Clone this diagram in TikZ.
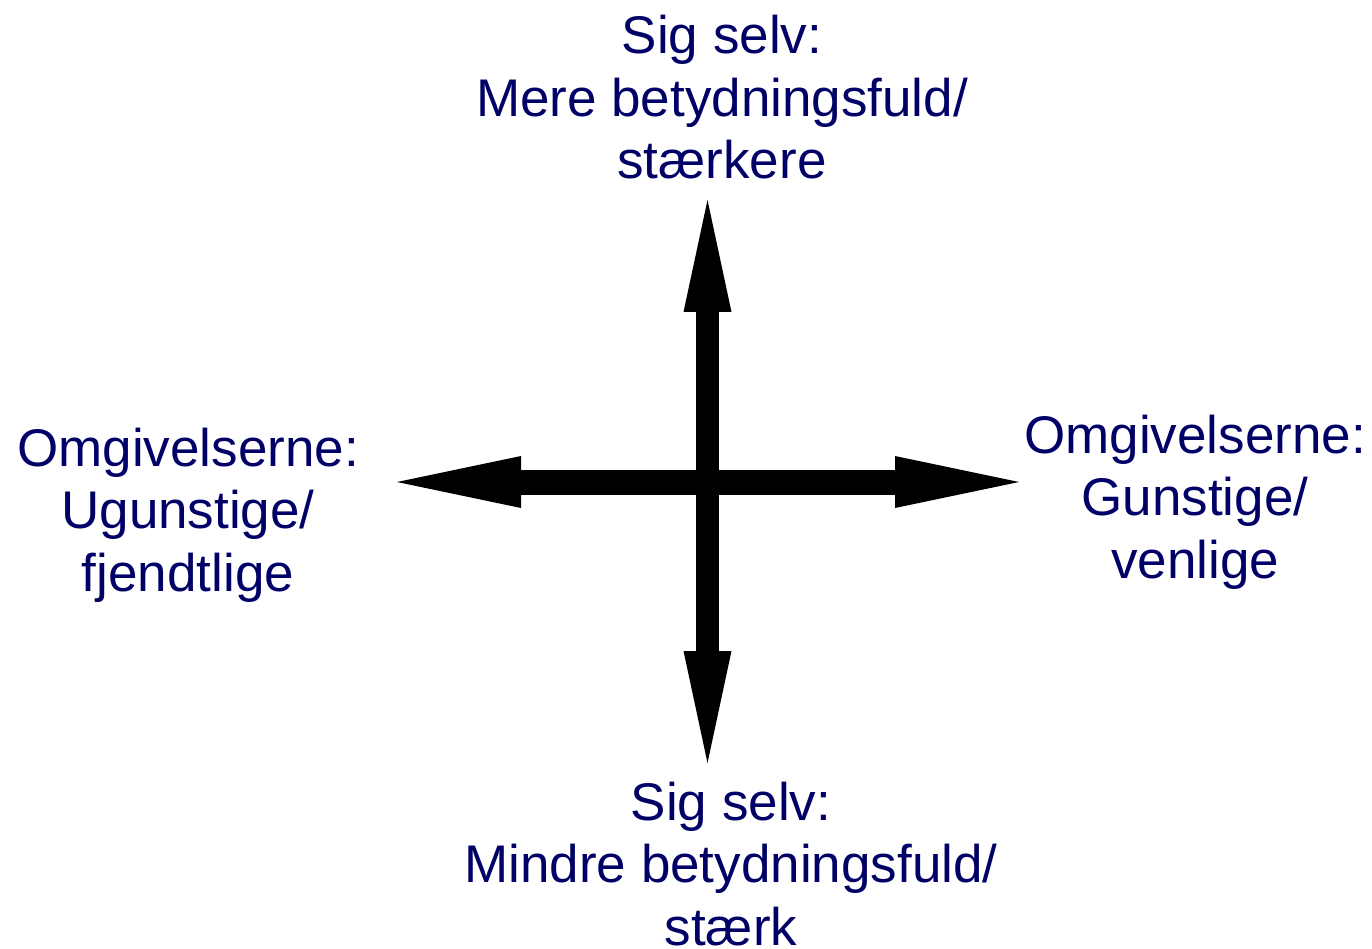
\documentclass[tikz,border=0pt]{standalone}
\usepackage{fontspec}
\setmainfont{Liberation Sans}
\usetikzlibrary{arrows.meta}
\definecolor{navytext}{RGB}{0,0,102}
\tikzset{
  lbl/.style={text=navytext, align=center, inner sep=0pt, anchor=base,
    font=\fontsize{53}{62.5}\selectfont},
  vtip/.tip={Triangle[length=112pt,width=48pt,line width=0pt]},
  htip/.tip={Triangle[length=124pt,width=52pt,line width=0pt]},
  varrow/.style={draw=black, line width=23pt, vtip-vtip},
  harrow/.style={draw=black, line width=25pt, htip-htip},
}
\begin{document}
\begin{tikzpicture}[x=1pt,y=-1pt]
\useasboundingbox (0,0) rectangle (1372,949);
\coordinate (N) at (707.5,200);
\coordinate (S) at (707.5,763);
\coordinate (W) at (397,482);
\coordinate (E) at (1019,482);
\draw[varrow] (S) -- (N);
\draw[harrow] (W) -- (E);
\node[lbl] (top) at (722,179) {Sig selv:\\Mere betydningsfuld/\\stærkere};
\node[lbl] (bottom) at (731,945) {Sig selv:\\Mindre betydningsfuld/\\stærk};
\node[lbl] (left) at (188,591) {Omgivelserne:\\Ugunstige/\\fjendtlige};
\node[lbl] (right) at (1195,578) {Omgivelserne:\\Gunstige/\\venlige};
\end{tikzpicture}
\end{document}
